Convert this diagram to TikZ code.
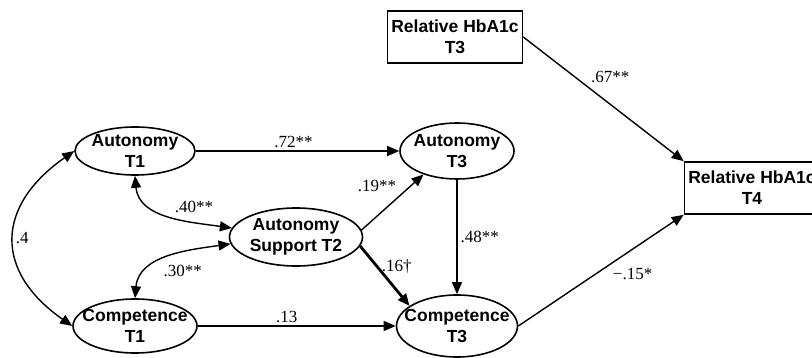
\documentclass[tikz,border=0pt]{standalone}
\usepackage{fontspec}
\setmainfont{Liberation Serif}
\newfontfamily\boxfont{Liberation Sans}
\usetikzlibrary{shapes.geometric, arrows.meta}
\tikzstyle{latent} = [ellipse, 
draw=black, 
line width=1.6pt, 
inner xsep=-14pt, 
inner ysep=-6pt, 
align=center, 
font=\boxfont\bfseries\fontsize{17.5}{21}\selectfont]
\tikzstyle{observed} = [rectangle, 
draw=black, 
line width=1.6pt, 
inner sep=2pt, 
minimum width=135pt, 
minimum height=52pt, 
align=center, 
font=\boxfont\bfseries\fontsize{17.5}{21}\selectfont]
\tikzstyle{coef} = [font=\fontsize{17}{20}\selectfont, inner sep=3pt]
\tikzstyle{arrow} = [line width=1.4pt, -{Triangle[length=12pt, width=10pt]}]
\tikzstyle{boldarrow} = [arrow, line width=2.8pt]
\tikzstyle{covar} = [line width=1.4pt, {Triangle[length=12pt, width=10pt]}-{Triangle[length=12pt, width=10pt]}]

\begin{document}
\begin{tikzpicture}[x=1pt, y=-1pt]
        \useasboundingbox (0,0) rectangle (812,358);

        % --- Nodos ---
        \node (aT1) [latent, minimum width=120pt, minimum height=48pt] at (135,151) {Autonomy\\T1};
        \node (cT1) [latent, minimum width=124pt, minimum height=54pt] at (135,326) {Competence\\T1};
        \node (ast2) [latent, minimum width=133pt, minimum height=58pt] at (296,237) {Autonomy\\Support T2};
        \node (aT3) [latent, minimum width=114pt, minimum height=56pt] at (457,151) {Autonomy\\T3};
        \node (cT3) [latent, minimum width=121pt, minimum height=62pt] at (457,326) {Competence\\T3};
        \node (hT3) [observed] at (455,37) {Relative HbA1c\\T3};
        \node (hT4) [observed] at (752,188) {Relative HbA1c\\T4};

        % --- Caminos ---
        \draw [arrow] (aT1) -- node[coef, above, pos=0.48] {.72**} (aT3);
        \draw [arrow] (cT1) -- node[coef, above, pos=0.45] {.13} (cT3);
        \draw [arrow] (ast2.6) -- node[coef, above left, pos=0.62] {.19**} (aT3.215);
        \draw [boldarrow] (ast2.-8) -- node[coef, right, pos=0.35] {.16\textdagger} (cT3.157);
        \draw [arrow] (aT3) -- node[coef, right] {.48**} (cT3);
        \draw [arrow] (hT3.east) -- node[coef, above right, pos=0.4] {.67**} (hT4.north west);
        \draw [arrow] (cT3.east) -- node[coef, below right, pos=0.55] {−.15*} (hT4.south west);

        % Covarianzas
        \draw [covar] (aT1.west) to[out=215, in=145, looseness=1.4] node[coef, right, inner sep=1pt] {.4} (cT1.west);
        \draw [covar] (aT1.south) to[out=-85, in=172] node[coef, above right, pos=0.52] {.40**} (ast2.172);
        \draw [covar] (cT1.north) to[out=85, in=188] node[coef, below right, pos=0.42] {.30**} (ast2.186);

    \end{tikzpicture}
\end{document}
